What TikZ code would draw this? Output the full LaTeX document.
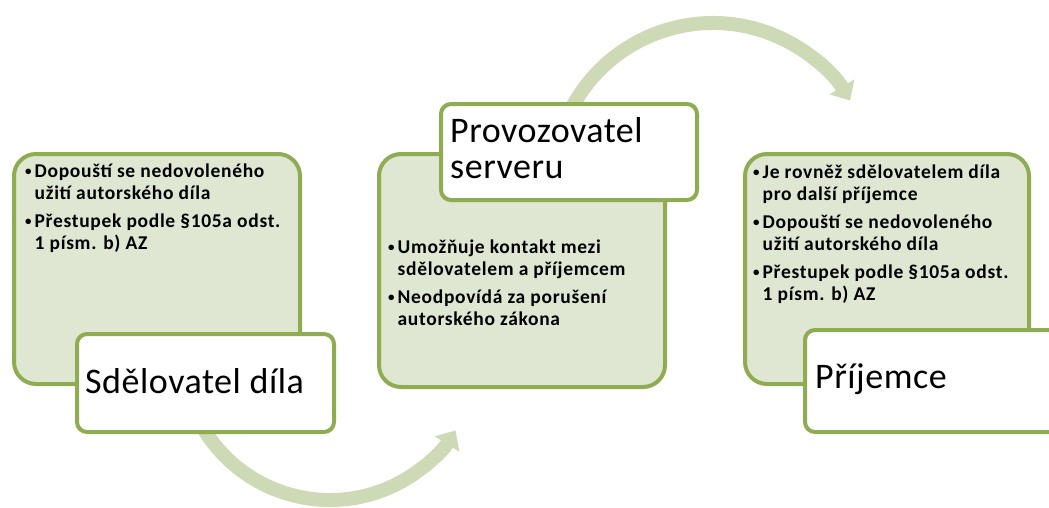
\documentclass[tikz,border=0pt]{standalone}
\usepackage{fontspec}
\setmainfont{Carlito}
\newfontfamily\bulfont{Carlito}[LetterSpace=3.5]
\newfontfamily\ttlfont{Carlito}[LetterSpace=1.5]
\usetikzlibrary{arrows.meta}
\definecolor{boxfill}{RGB}{223,231,211}
\definecolor{boxline}{RGB}{143,172,82}
\definecolor{arrowcol}{RGB}{205,218,181}
\newcommand{\bdot}{{\fontsize{13}{13}\selectfont\raisebox{1.5pt}{•}}}
\begin{document}
\begin{tikzpicture}[x=1pt,y=-1pt,
  greenbox/.style={draw=boxline, fill=boxfill, line width=4pt, rounded corners=22pt, anchor=north west, inner sep=0pt},
  whitebox/.style={draw=boxline, fill=white, line width=4pt, rounded corners=10pt, anchor=north west, inner sep=0pt},
  flow/.style={draw=arrowcol, line width=14pt, -{Triangle[width=28pt,length=16pt]}},
  bul/.style={anchor=base west, inner sep=0pt, font=\bulfont\fontsize{19.5}{22.5}\selectfont\bfseries},
  ttl/.style={anchor=base west, inner sep=0pt, font=\ttlfont\fontsize{36}{36}\selectfont}]
\useasboundingbox (0,0) rectangle (1049,507);
% connectors (arcs)
\coordinate (c1) at (330,352);
\coordinate (c2) at (713,183);
\draw[flow] (c1) ++(150:148) arc[start angle=150, end angle=32, radius=148];
\draw[flow] (c2) ++(205:160) arc[start angle=205, end angle=329, radius=160];
% boxes
\node[greenbox, minimum width=286pt, minimum height=230pt] (g1) at (12,152) {};
\node[greenbox, minimum width=286pt, minimum height=233pt] (g2) at (377,152) {};
\node[greenbox, minimum width=284pt, minimum height=230pt] (g3) at (743,152) {};
\node[whitebox, minimum width=257pt, minimum height=98pt] (w1) at (75,332) {};
\node[whitebox, minimum width=256pt, minimum height=96pt] (w2) at (439,102) {};
\node[whitebox, minimum width=267pt, minimum height=102pt] (w3) at (803,328) {};
% texts
\node[bul] (t1) at (25,177) {\begin{tabular}[t]{@{}l@{\hspace{3pt}}l@{}}\bdot&Dopouští se nedovoleného\\ &užití autorského díla\\[5pt] \bdot&Přestupek podle §105a odst.\\ &1 písm. b) AZ\end{tabular}};
\node[bul] (t2) at (388,253) {\begin{tabular}[t]{@{}l@{\hspace{3pt}}l@{}}\bdot&Umožňuje kontakt mezi\\ &sdělovatelem a příjemcem\\[5pt] \bdot&Neodpovídá za porušení\\ &autorského zákona\end{tabular}};
\node[bul] (t3) at (753,178) {\begin{tabular}[t]{@{}l@{\hspace{3pt}}l@{}}\bdot&Je rovněž sdělovatelem díla\\ &pro další příjemce\\[5pt] \bdot&Dopouští se nedovoleného\\ &užití autorského díla\\[5pt] \bdot&Přestupek podle §105a odst.\\ &1 písm. b) AZ\end{tabular}};
\node[ttl] (n1) at (85,393) {Sdělovatel díla};
\node[ttl] (n2) at (450,142) {\begin{tabular}[t]{@{}l@{}}Provozovatel\\serveru\end{tabular}};
\node[ttl] (n3) at (815,388) {Příjemce};
\end{tikzpicture}
\end{document}
